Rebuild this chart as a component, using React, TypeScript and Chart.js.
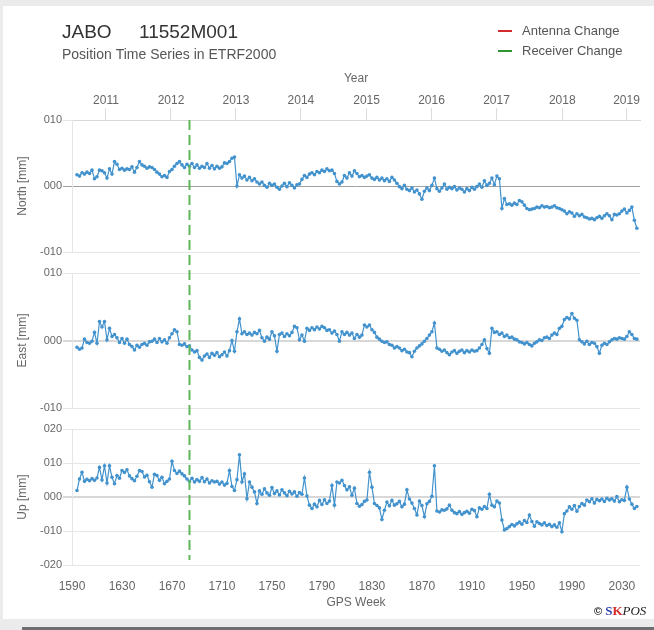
import React, { useEffect, useRef } from 'react';
import { Chart, registerables } from 'chart.js';

Chart.register(...registerables);

const FONT = '"Liberation Sans", Arial, Helvetica, sans-serif';

// GPS weeks: regular 2-week sampling starting at week 1594
const WEEK_START = 1594;
const WEEK_STEP = 2;

const NORTH = [
  1.7, 1.5, 2.0, 1.8, 2.1, 1.9, 2.4, 1.1, 1.4, 2.4,
  2.3, 2.0, 1.2, 2.6, 1.8, 3.7, 3.3, 2.5, 2.7, 2.4,
  2.6, 2.5, 2.9, 2.1, 2.8, 3.7, 3.2, 3.0, 2.7, 2.9,
  2.8, 2.5, 2.1, 1.8, 1.4, 1.6, 1.3, 2.2, 2.5, 3.0,
  3.4, 3.7, 3.2, 2.8, 3.3, 3.0, 3.4, 2.8, 3.2, 2.7,
  3.0, 2.8, 3.4, 2.7, 3.1, 2.6, 3.0, 2.7, 2.9, 3.5,
  3.4, 3.7, 4.2, 4.4, 0.0, 1.7, 1.2, 1.5, 0.9, 1.3,
  0.8, 1.1, 0.6, 0.3, 0.6, 0.1, -0.2, 0.4, 0.1, 0.3,
  -0.2, -0.5, 0.0, 0.4, -0.1, 0.5, 0.1, -0.3, 0.2, 0.3,
  1.0, 1.6, 1.3, 1.8, 2.0, 1.7, 2.2, 2.0, 2.4, 2.2,
  2.6, 2.3, 2.4, 1.9, 0.7, 0.3, 0.6, 1.6, 1.2, 2.0,
  1.5, 2.3, 1.9, 1.4, 1.6, 1.3, 1.5, 1.7, 1.2, 1.0,
  1.3, 0.9, 1.2, 0.8, 1.1, 0.7, 1.3, 0.9, 0.4, -0.1,
  -0.4, 0.1, -0.5, -0.7, -0.3, -0.9, -0.6, -1.2, -2.0, -0.8,
  -0.3, -0.7, 0.1, 1.2, -0.4, -0.8, -0.3, 0.3, -0.5, -0.2,
  -0.4, -0.1, -0.6, -0.3, -0.5, -0.9, -0.4, -0.7, -0.2, -0.5,
  -0.1, 0.3, -0.2, 0.8, 0.1, 0.4, 1.2, 0.2, 1.5, 1.1,
  -3.4, -1.9, -2.8, -2.7, -2.9, -2.6, -2.8, -2.2, -2.4, -2.9,
  -3.4, -3.6, -3.5, -3.4, -3.2, -3.3, -3.0, -3.2, -3.1, -3.3,
  -3.2, -3.0, -3.3, -3.4, -3.6, -3.8, -4.2, -3.9, -4.1, -4.6,
  -4.2, -4.5, -4.3, -4.7, -4.8, -5.0, -4.9, -5.1, -4.8, -4.6,
  -4.9, -4.5, -4.2, -4.5, -5.1, -4.3, -4.4, -4.2, -3.8, -3.5,
  -4.1, -3.7, -3.2, -5.2, -6.4,
];

const EAST = [
  -1.0, -1.3, -1.1, 0.2, -0.3, -0.4, -0.1, 1.2, -0.4, 2.8,
  2.0, 2.8, 0.1, 1.8, 0.6, 0.9, 0.4, -0.3, 0.3, -0.4,
  0.2, -0.6, -0.9, -1.4, -0.7, -1.0, -0.6, -0.4, -0.7, -0.2,
  -0.1, 0.2, -0.3, 0.3, -0.2, 0.1, -0.4, 0.4, 1.0, 1.6,
  1.3, -0.6, -0.7, -0.5, -0.9, -0.8, -1.4, -1.7, -1.5, -2.5,
  -2.9, -2.3, -2.0, -2.5, -1.9, -2.2, -1.8, -2.4, -2.1, -1.7,
  -2.3, -1.5, 0.0, -1.6, 1.3, 3.2, 1.0, 1.3, 0.9, 1.1,
  0.8, 1.2, 1.0, 1.5, 0.4, -0.1, 0.5, 0.2, 1.3, 0.7,
  -1.6, 0.9, 1.1, 0.6, 1.0, 0.7, 1.2, 2.1, 1.9, 0.1,
  0.8, -0.1, 1.8, 1.5, 1.9, 1.6, 2.0, 1.7, 2.1, 1.9,
  1.5, 1.6, 1.1, 1.4, 0.9, -0.1, 1.3, 0.9, 1.2, 0.8,
  1.1, 0.3, 0.9, 0.5, 0.8, 2.3, 2.0, 2.3, 1.6, 1.2,
  0.5, 0.2, -0.1, -0.3, -0.2, -0.6, -0.7, -1.1, -0.9, -1.1,
  -1.5, -1.3, -1.7, -1.8, -2.4, -1.6, -1.1, -0.8, -0.5, -0.1,
  0.3, 0.8, 1.3, 2.6, -1.1, -1.3, -1.6, -1.4, -1.8, -2.1,
  -1.7, -1.5, -1.9, -1.6, -1.4, -1.8, -1.5, -1.7, -1.4, -1.6,
  -1.5, -1.1, -0.6, 0.1, -1.2, -1.9, 1.8, 1.2, 1.3, 0.9,
  1.1, 0.6, 0.8, 0.4, 0.5, 0.2, 0.1, -0.2, -0.3, -0.5,
  -0.3, -0.6, -0.8, -0.4, -0.2, 0.1, 0.0, 0.4, 0.5, 0.3,
  0.8, 1.1, 0.9, 1.8, 2.1, 3.1, 3.4, 3.2, 4.0, 3.3,
  3.0, 0.1, -0.2, -0.5, -0.1, -0.6, -0.3, -0.4, -0.9, -1.9,
  -0.7, -0.4, -0.6, -0.2, 0.1, 0.3, 0.2, 0.4, 0.3, 0.2,
  0.6, 1.3, 0.9, 0.3, 0.2,
];

const UP = [
  1.9, 5.3, 7.3, 4.6, 5.2, 4.8, 5.4, 4.9, 5.6, 8.7,
  5.0, 9.2, 4.1, 9.2, 5.8, 3.9, 6.3, 5.5, 7.8, 7.2,
  8.0, 6.2, 5.4, 4.8, 6.1, 7.8, 7.5, 5.9, 6.4, 4.5,
  2.9, 6.7, 6.3, 4.9, 5.8, 3.9, 4.6, 5.3, 10.5, 7.8,
  6.9, 7.6, 6.8, 6.2, 5.3, 4.6, 5.5, 4.4, 5.1, 4.6,
  5.7, 4.5, 5.3, 4.1, 4.8, 4.4, 4.6, 3.8, 4.4, 3.5,
  4.0, 7.8, 3.1, 1.9, 5.1, 12.4, 4.4, 6.8, -0.5, 4.4,
  2.9, 1.5, -1.9, 1.8, 0.8, 2.4, 1.2, 0.5, 2.8, 1.0,
  1.8, 0.6, 2.1, 1.2, 0.4, 1.7, 0.9, 1.5, 0.2, 1.3,
  0.8, 5.6, 0.3, -2.4, -3.4, -2.1, -2.9, -1.0, -2.2, -0.8,
  -1.9, -1.2, 3.4, -2.4, 4.4, 4.1, 4.9, 3.4, 2.1, 3.0,
  0.5, 2.6, -1.9, -2.7, -2.2, -1.3, -0.9, 7.3, 2.9, -1.9,
  -2.5, -3.2, -6.6, -3.9, -1.5, -2.6, -1.0, -2.4, -2.0, -1.3,
  -2.9, -2.1, 2.1, -0.6, -1.8, -3.4, -5.3, -1.2, -2.5, -5.8,
  -2.0, -1.3, 0.2, 9.2, -4.1, -4.4, -3.8, -3.9, -3.5, -2.4,
  -3.9, -4.6, -4.9, -4.3, -5.1, -4.6, -4.2, -4.8, -3.6, -4.0,
  -5.8, -3.2, -3.6, -2.8, -3.4, 0.8, -2.4, -2.9, -1.2, -1.8,
  -6.8, -9.7, -9.3, -8.7, -8.1, -8.5, -7.9, -7.4, -8.0, -6.9,
  -7.5, -5.3, -7.2, -8.6, -7.3, -7.8, -8.2, -7.6, -8.4, -8.0,
  -8.7, -8.2, -8.9, -7.6, -10.2, -4.9, -4.1, -2.9, -3.6, -2.5,
  -4.2, -2.8, -1.9, -2.4, -0.9, -1.4, -0.5, -1.8, -0.7, -1.1,
  -0.6, -1.3, -0.4, -0.9, -0.5, -1.2, 0.1, -1.4, -0.8, -1.0,
  2.9, -0.6, -2.1, -3.4, -2.8,
];

const GPS_WEEK_TICKS = [1590, 1630, 1670, 1710, 1750, 1790, 1830, 1870, 1910, 1950, 1990, 2030];
const YEAR_LABELS = ['2011', '2012', '2013', '2014', '2015', '2016', '2017', '2018', '2019'];
const YEAR_WEEKS = [1617.2, 1669.2, 1721.2, 1773.2, 1825.7, 1877.7, 1929.7, 1982.3, 2033.7];
const NE_TICKS = [-10, 0, 10];
const UP_TICKS = [-20, -10, 0, 10, 20];
const RECEIVER_CHANGE_WEEK = 1684;
const X_MIN = 1590;
const X_MAX = 2044.5;

const BLUE = '#4292cd';

const toPoints = (vals: number[]) => vals.map((v, i) => ({ x: WEEK_START + i * WEEK_STEP, y: v }));

const fmt = (v: number) => (v < 0 ? '-' : '') + String(Math.abs(v)).padStart(3, '0');

function yAxis(title: string, min: number, max: number, ticks: number[], weight: number, stackWeight: number, darkZero: boolean) {
  return {
    type: 'linear',
    axis: 'y',
    position: 'left',
    stack: 'panels',
    stackWeight,
    weight,
    min,
    max,
    afterBuildTicks: (s: any) => {
      s.ticks = ticks.map((v) => ({ value: v }));
    },
    afterFit: (s: any) => {
      s.width = 72;
    },
    ticks: {
      color: '#666',
      font: { size: 11, family: FONT },
      padding: 1,
      autoSkip: false,
      callback: (v: any) => fmt(Number(v)),
    },
    grid: {
      color: (c: any) => (c.tick && c.tick.value === 0 ? (darkZero ? '#a0a0a0' : '#d8d8d8') : '#e6e6e6'),
      lineWidth: (c: any) => (c.tick && c.tick.value === 0 && !darkZero ? 2 : 1),
      tickLength: 9,
      drawTicks: true,
    },
    border: { display: true, color: '#e6e6e6' },
    title: {
      display: true,
      text: title,
      color: '#666',
      font: { size: 12, family: FONT },
      padding: { top: 15, bottom: 0 },
    },
  };
}

function gapAxis(weight: number, stackWeight: number) {
  return {
    type: 'linear',
    axis: 'y',
    position: 'left',
    stack: 'panels',
    stackWeight,
    weight,
    min: 0,
    max: 1,
    display: false,
  };
}

const decorPlugin = {
  id: 'decor',
  afterDatasetsDraw(chart: any) {
    const { ctx, chartArea, scales } = chart;
    const x = scales.x.getPixelForValue(RECEIVER_CHANGE_WEEK);
    ctx.save();
    ctx.strokeStyle = '#5fb65a';
    ctx.lineWidth = 2;
    ctx.setLineDash([10, 5]);
    ctx.beginPath();
    ctx.moveTo(x, chartArea.top);
    ctx.lineTo(x, chartArea.bottom - 5);
    ctx.stroke();
    ctx.restore();
  },
  afterDraw(chart: any) {
    const { ctx } = chart;
    ctx.save();
    ctx.textBaseline = 'middle';
    ctx.textAlign = 'left';
    // title
    ctx.fillStyle = '#333';
    ctx.font = `19px ${FONT}`;
    ctx.fillText('JABO', 62, 33);
    ctx.fillText('11552M001', 139, 33);
    // subtitle
    ctx.fillStyle = '#555';
    ctx.font = `14px ${FONT}`;
    ctx.fillText('Position Time Series in ETRF2000', 62, 55);
    // legend
    ctx.lineWidth = 2;
    ctx.strokeStyle = '#d62b2b';
    ctx.beginPath();
    ctx.moveTo(498, 31);
    ctx.lineTo(512, 31);
    ctx.stroke();
    ctx.strokeStyle = '#2f962f';
    ctx.beginPath();
    ctx.moveTo(498, 51);
    ctx.lineTo(512, 51);
    ctx.stroke();
    ctx.fillStyle = '#555';
    ctx.font = `13px ${FONT}`;
    ctx.fillText('Antenna Change', 522, 31);
    ctx.fillText('Receiver Change', 522, 51);
    // credits
    let cx = 594;
    const cy = 612;
    ctx.fillStyle = '#222';
    ctx.font = `bold 11px ${FONT}`;
    ctx.fillText('©', cx, cy);
    cx += ctx.measureText('© ').width;
    ctx.font = 'bold 13px "Liberation Serif", "DejaVu Serif", serif';
    ctx.fillStyle = '#2b3fae';
    ctx.fillText('S', cx, cy);
    cx += ctx.measureText('S').width;
    ctx.fillStyle = '#d42a2a';
    ctx.fillText('K', cx, cy);
    cx += ctx.measureText('K').width;
    ctx.fillStyle = '#222';
    ctx.font = 'italic 13px "Liberation Serif", "DejaVu Serif", serif';
    ctx.fillText('POS', cx, cy);
    ctx.restore();
  },
};

export default function App() {
  const ref = useRef<HTMLCanvasElement | null>(null);

  useEffect(() => {
    if (!ref.current) return;
    const ds = (vals: number[], yAxisID: string) => ({
      data: toPoints(vals),
      xAxisID: 'x',
      yAxisID,
      borderColor: BLUE,
      backgroundColor: BLUE,
      borderWidth: 1.2,
      pointRadius: 1.8,
      pointBorderWidth: 0,
      pointBackgroundColor: BLUE,
      tension: 0,
      fill: false,
    });

    const chart = new Chart(ref.current, {
      type: 'line',
      data: {
        datasets: [ds(NORTH, 'yN'), ds(EAST, 'yE'), ds(UP, 'yU')],
      },
      options: {
        animation: false,
        responsive: false,
        maintainAspectRatio: false,
        events: [],
        layout: { padding: { top: 60, left: 0, right: 14, bottom: 0 } },
        plugins: {
          legend: { display: false },
          tooltip: { enabled: false },
          title: { display: false },
        },
        scales: {
          x: {
            type: 'linear',
            position: 'bottom',
            min: X_MIN,
            max: X_MAX,
            afterBuildTicks: (s: any) => {
              s.ticks = GPS_WEEK_TICKS.map((v) => ({ value: v }));
            },
            afterFit: (s: any) => {
              s.height = 65;
            },
            ticks: {
              color: '#666',
              font: { size: 12, family: FONT },
              padding: 6,
              autoSkip: false,
              maxRotation: 0,
              callback: (v: any) => String(v),
            },
            grid: { display: false },
            border: { display: false },
            title: {
              display: true,
              text: 'GPS Week',
              color: '#666',
              font: { size: 12, family: FONT },
              padding: { top: 0, bottom: 20 },
            },
          },
          xTop: {
            type: 'linear',
            axis: 'x',
            position: 'top',
            min: X_MIN,
            max: X_MAX,
            afterBuildTicks: (s: any) => {
              s.ticks = YEAR_WEEKS.map((v) => ({ value: v }));
            },
            afterFit: (s: any) => {
              s.height = 60;
            },
            ticks: {
              color: '#666',
              font: { size: 12, family: FONT },
              padding: 0,
              autoSkip: false,
              maxRotation: 0,
              callback: (_v: any, i: number) => YEAR_LABELS[i],
            },
            grid: { drawOnChartArea: false, drawTicks: true, tickLength: 12, color: '#dcdcdc' },
            border: { display: true, color: '#d8d8d8' },
            title: {
              display: true,
              text: 'Year',
              color: '#666',
              font: { size: 12, family: FONT },
              padding: { top: 11, bottom: 0 },
            },
          },
          yN: yAxis('North [mm]', -10, 10, NE_TICKS, 5, 132, true),
          gap1: gapAxis(4, 21),
          yE: yAxis('East [mm]', -10, 10, NE_TICKS, 3, 135, false),
          gap2: gapAxis(2, 21),
          yU: yAxis('Up [mm]', -20, 20, UP_TICKS, 1, 136, false),
        } as any,
      },
      plugins: [decorPlugin],
    } as any);

    return () => chart.destroy();
  }, []);

  return (
    <div style={{ position: 'absolute', left: 0, top: 0, width: 654, height: 630, background: '#ebebeb', overflow: 'hidden' }}>
      <div style={{ position: 'absolute', left: 3, top: 6, width: 651, height: 613, background: '#ffffff' }} />
      <div style={{ position: 'absolute', left: 22, top: 627, width: 632, height: 3, background: '#6e6e6e' }} />
      <canvas ref={ref} width={654} height={630} style={{ position: 'absolute', left: 0, top: 0, width: 654, height: 630 }} />
    </div>
  );
}
